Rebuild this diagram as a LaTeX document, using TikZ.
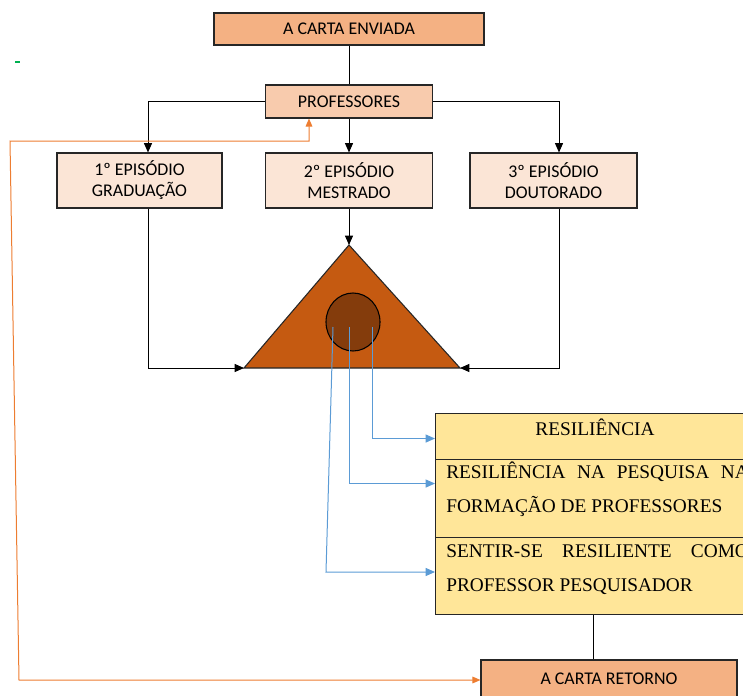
\documentclass[tikz,border=0pt]{standalone}
\usepackage{fontspec}
\setmainfont{Carlito}
\newfontfamily\tnr{Liberation Serif}
\usetikzlibrary{arrows.meta,shapes.geometric}
\newcommand\pxu{0.75pt}
\definecolor{cEnv}{HTML}{F4B183}
\definecolor{cProf}{HTML}{F8CBAD}
\definecolor{cEp}{HTML}{FBE5D6}
\definecolor{cTri}{HTML}{C55A11}
\definecolor{cCirc}{HTML}{843C0C}
\definecolor{cRes}{HTML}{FFE699}
\definecolor{cBlue}{HTML}{5B9BD5}
\definecolor{cOr}{HTML}{ED7D31}
\definecolor{cGreen}{HTML}{00B050}
\tikzset{
  box/.style={draw=black!85, line width=0.8pt, align=center, inner sep=0pt,
    font=\fontsize{13.4}{15.75}\selectfont},
  rowbox/.style={draw=black!85, line width=0.8pt, fill=cRes, inner sep=0pt,
    minimum width=320*\pxu, anchor=north west},
  sertext/.style={inner sep=0pt, font=\tnr\fontsize{14.5}{17}\selectfont},
  conn/.style={draw=black, line width=0.75pt},
  arr/.style={conn, -{Triangle[length=7pt,width=6pt]}},
  bluearr/.style={draw=cBlue, line width=0.75pt, -{Triangle[length=7pt,width=6pt]}},
  orarr/.style={draw=cOr, line width=0.75pt, {Triangle[length=6pt,width=5pt]}-{Triangle[length=6pt,width=5pt]}},
}
\begin{document}
\begin{tikzpicture}[x=0.75pt,y=-0.75pt]
\useasboundingbox (0,0) rectangle (743,696);
\clip (0,0) rectangle (743,696);

% top boxes
\node[box, fill=cEnv, minimum width=270*\pxu, minimum height=32*\pxu] (env) at (349,29) {A CARTA ENVIADA};
\node[box, fill=cProf, minimum width=167*\pxu, minimum height=33*\pxu] (prof) at (349,101.5) {PROFESSORES};
\node[box, fill=cEp, minimum width=165*\pxu, minimum height=55*\pxu] (ep1) at (139.5,180.5) {1º EPISÓDIO\\GRADUAÇÃO};
\node[box, fill=cEp, minimum width=167*\pxu, minimum height=55*\pxu] (ep2) at (349,180.5) {2º EPISÓDIO\\MESTRADO};
\node[box, fill=cEp, minimum width=167*\pxu, minimum height=55*\pxu] (ep3) at (553.5,180.5) {3º EPISÓDIO\\DOUTORADO};

% connectors at top
\draw[conn] (env.south) -- (prof.north);
\draw[arr] (prof.west) -| ([xshift=8.5*\pxu]ep1.north);
\draw[arr] (prof.south) -- (ep2.north);
\draw[arr] (prof.east) -| ([xshift=5.5*\pxu]ep3.north);

% triangle and circle
\coordinate (tA) at (349,245);
\coordinate (tL) at (244,368);
\coordinate (tR) at (460,368);
\filldraw[fill=cTri, draw=black!85, line width=0.8pt] (tA) -- (tR) -- (tL) -- cycle;
\node[ellipse, draw=black, line width=0.8pt, fill=cCirc, minimum width=54*\pxu, minimum height=58*\pxu, inner sep=0pt] (circ) at (353,322) {};

\draw[arr] (ep2.south) -- (tA);
\draw[arr] ([xshift=8.5*\pxu]ep1.south) |- (tL);
\draw[arr] ([xshift=5.5*\pxu]ep3.south) |- (tR);

% right box rows
\node[rowbox, minimum height=46*\pxu] (r1) at (435,413) {};
\node[rowbox, minimum height=78*\pxu] (r2) at (435,459) {};
\node[rowbox, minimum height=77*\pxu] (r3) at (435,537) {};

\node[sertext, anchor=base] (t1) at (595,435) {RESILIÊNCIA};
\node[sertext, anchor=base west] (t2a) at (446,478) {\makebox[227pt][s]{RESILIÊNCIA NA PESQUISA NA}};
\node[sertext, anchor=base west] (t2b) at (446,512) {FORMAÇÃO DE PROFESSORES};
\node[sertext, anchor=base west] (t3a) at (446,557) {\makebox[227pt][s]{SENTIR-SE RESILIENTE COMO}};
\node[sertext, anchor=base west] (t3b) at (446,591) {PROFESSOR PESQUISADOR};

% blue connectors
\coordinate (s1) at (372,327);
\coordinate (s2) at (349,327);
\coordinate (s3) at (333,327);
\coordinate (b3) at (326,572);
\draw[bluearr] (s1) |- ([yshift=-2*\pxu]r1.west);
\draw[bluearr] (s2) |- ([yshift=15*\pxu]r2.west);
\draw[bluearr] (s3) -- (b3) -- (b3 -| r3.west);

% return box
\node[box, fill=cEnv, minimum width=256*\pxu, minimum height=38*\pxu] (ret) at (609,679) {A CARTA RETORNO};
\draw[conn] ([xshift=-2*\pxu]r3.south) -- ([xshift=-2*\pxu]r3.south |- ret.north);

% orange return path
\coordinate (o1) at (10,141);
\coordinate (o2) at (19,680);
\coordinate (o3) at (309,141);
\draw[orarr] (ret.west |- o2) -- (o2) -- (o1) -- (o3) -- (o3 |- prof.south);

% stray green dash
\draw[cGreen, line width=1.2pt] (15,62) -- (20,62);
\end{tikzpicture}
\end{document}
